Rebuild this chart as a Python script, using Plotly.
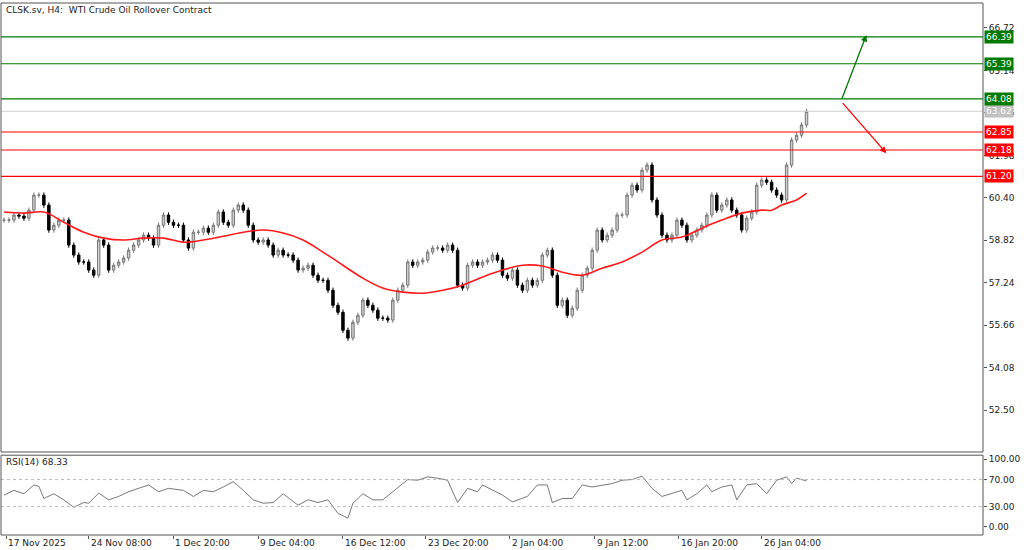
import plotly.graph_objects as go

closes = [59.57,59.57,59.76,59.72,59.64,59.94,60.50,60.50,60.13,59.20,
59.38,59.57,59.57,58.64,58.27,58.01,58.01,57.71,57.52,58.83,
58.64,57.71,57.89,58.01,58.16,58.45,58.64,58.83,59.01,58.90,
58.64,59.38,59.76,59.49,59.38,59.38,58.83,58.53,59.12,59.12,
59.27,59.12,59.38,59.87,59.49,59.38,59.94,60.13,59.94,59.38,
58.83,58.75,58.83,58.64,58.27,58.45,58.27,58.27,58.08,57.71,
57.78,57.89,57.52,57.33,57.33,56.96,56.40,56.14,55.47,55.18,
55.77,56.03,56.59,56.40,56.22,55.92,55.92,55.85,56.59,56.96,
57.15,58.01,57.89,58.01,58.08,58.38,58.53,58.53,58.45,58.64,
58.45,57.15,57.04,57.89,58.01,57.89,58.01,58.08,58.27,58.08,
57.52,57.41,57.71,57.15,56.96,57.33,57.15,57.33,58.27,58.45,
57.52,56.40,56.59,56.03,56.29,56.96,57.52,57.78,58.45,59.20,
58.83,59.01,59.20,59.76,59.76,60.50,60.87,60.69,61.43,61.62,
60.32,59.76,59.01,58.83,59.01,59.57,59.38,58.83,59.01,59.20,
59.38,59.76,60.50,59.94,60.13,60.32,59.94,59.76,59.20,59.64,
59.87,60.87,61.06,60.98,60.69,60.50,60.32,61.62,62.55,62.73,
63.11,63.62]

ma_idx = [0,4,8,12,16,20,24,28,32,36,40,44,48,52,56,60,64,68,72,76,80,84,88,92,96,100,104,108,112,116,120,124,128,132,136,140,144,148,152,154,156,159,161]
ma_val = [59.87,59.83,59.87,59.49,59.12,58.90,58.83,58.90,58.90,58.75,58.83,58.97,59.12,59.20,59.09,58.83,58.38,57.89,57.41,57.04,56.89,56.85,56.96,57.15,57.45,57.71,57.89,57.86,57.63,57.52,57.78,58.01,58.38,58.83,58.94,59.27,59.57,59.83,59.94,59.94,60.13,60.32,60.57]

rsi_idx = [0,2,4,6,7,8,10,12,14,16,17,19,21,23,25,27,29,31,33,36,38,40,42,44,46,48,50,52,54,56,59,61,63,65,67,69,70,72,74,76,78,81,83,85,87,89,90,91,93,95,96,98,100,102,105,107,109,110,112,114,116,118,120,122,124,126,128,130,132,134,136,137,139,141,142,144,146,147,149,151,153,155,157,158,159,161]
rsi_val = [47,54,49,62,60,42,49,40,29,36,35,50,40,45,52,57,62,52,57,54,45,54,52,59,67,54,40,35,36,49,32,40,36,40,20,13,35,49,40,40,52,70,69,74,72,69,52,36,57,52,62,54,47,37,45,62,62,36,42,42,62,59,62,64,69,70,75,57,45,49,54,40,49,62,52,59,62,40,62,64,49,69,74,64,72,68]

levels_green = [66.39, 65.39, 64.08]
levels_red = [62.85, 62.18, 61.20]
last_price = 63.62
price_ticks = [66.72, 65.14, 63.56, 61.98, 60.40, 58.82, 57.24, 55.66, 54.08, 52.50]
rsi_ticks = [100, 70, 30, 0]
date_idx = [0.5, 17, 34, 51, 68, 84.6, 101.5, 118.5, 135.4, 152]
date_labels = ["17 Nov 2025","24 Nov 08:00","1 Dec 20:00","9 Dec 04:00","16 Dec 12:00",
               "23 Dec 20:00","2 Jan 04:00","9 Jan 12:00","16 Jan 20:00","26 Jan 04:00"]

n = len(closes)
idx = list(range(n))
opens = [closes[0]] + closes[:-1]
highs = [max(o, c) + 0.1 for o, c in zip(opens, closes)]
lows = [min(o, c) - 0.1 for o, c in zip(opens, closes)]

fig = go.Figure()
fig.add_trace(go.Candlestick(x=idx, open=opens, high=highs, low=lows, close=closes,
    increasing=dict(fillcolor="#cfcfcf", line=dict(color="#777", width=1)),
    decreasing=dict(fillcolor="#000", line=dict(color="#000", width=1)),
    whiskerwidth=0, xaxis="x", yaxis="y", showlegend=False, hoverinfo="skip"))
fig.add_trace(go.Scatter(x=ma_idx, y=ma_val, mode="lines", line=dict(color="#ff1a1a", width=1.6, shape="spline"),
    xaxis="x", yaxis="y", showlegend=False))
fig.add_trace(go.Scatter(x=rsi_idx, y=rsi_val, mode="lines", line=dict(color="#555", width=0.8),
    xaxis="x2", yaxis="y2", showlegend=False))

XR = [-0.6, 196.4]
shapes = []
ann = []
font = dict(family="DejaVu Sans", size=9, color="#222")
def level(v, col, tcol="white"):
    shapes.append(dict(type="line", xref="x", yref="y", x0=XR[0], x1=XR[1], y0=v, y1=v,
                       line=dict(color=col, width=1.2)))
    ann.append(dict(xref="paper", yref="y", x=1.0, y=v, xanchor="left", yanchor="middle",
                    text=f"{v:.2f}", showarrow=False, bgcolor=col, font=dict(family="DejaVu Sans", size=9, color=tcol),
                    borderpad=1, xshift=1))
shapes.append(dict(type="line", xref="x", yref="y", x0=XR[0], x1=XR[1], y0=last_price, y1=last_price,
                   line=dict(color="#d0d0d0", width=1)))
ann.append(dict(xref="paper", yref="y", x=1.0, y=last_price, xanchor="left", yanchor="middle",
                text=f"{last_price:.2f}", showarrow=False, bgcolor="#c0c0c0",
                font=dict(family="DejaVu Sans", size=9, color="white"), borderpad=1, xshift=1))
for v in levels_green:
    level(v, "#007a00")
for v in levels_red:
    level(v, "#ff0000")
for v in [70, 30]:
    shapes.append(dict(type="line", xref="x2", yref="y2", x0=XR[0], x1=XR[1], y0=v, y1=v,
                       line=dict(color="#bbb", width=1, dash="dot")))

ann.append(dict(x=173, y=66.46, ax=168, ay=64.04, xref="x", yref="y", axref="x", ayref="y",
                showarrow=True, arrowhead=2, arrowsize=1, arrowwidth=1.3, arrowcolor="#007a00", text=""))
ann.append(dict(x=177, y=62.06, ax=168, ay=63.98, xref="x", yref="y", axref="x", ayref="y",
                showarrow=True, arrowhead=2, arrowsize=1, arrowwidth=1.3, arrowcolor="#ff0000", text=""))
ann.append(dict(xref="paper", yref="paper", x=0.003, y=1.0, xanchor="left", yanchor="top", showarrow=False,
                text="CLSK.sv, H4:  WTI Crude Oil Rollover Contract", font=font))
ann.append(dict(xref="paper", yref="paper", x=0.003, y=0.150, xanchor="left", yanchor="top", showarrow=False,
                text="RSI(14) 68.33", font=font))
for d, lab in zip(date_idx, date_labels):
    ann.append(dict(xref="x2", yref="paper", x=d, y=0, xanchor="left", yanchor="top", showarrow=False,
                    text=lab, font=font, yshift=-1))

for y0, y1 in [(0.156, 1.0), (0.0, 0.150)]:
    shapes.append(dict(type="rect", xref="paper", yref="paper", x0=0, x1=1, y0=y0, y1=y1,
                       line=dict(color="#555", width=1)))

axcommon = dict(showgrid=False, zeroline=False, range=XR, showticklabels=False,
                ticks="outside", tickvals=date_idx, ticklen=3, tickcolor="#555")
fig.update_layout(
    width=1024, height=550, paper_bgcolor="white", plot_bgcolor="white",
    margin=dict(l=1, r=41, t=3, b=15), font=font,
    xaxis=dict(domain=[0, 1], anchor="y", rangeslider=dict(visible=False), showgrid=False,
               zeroline=False, range=XR, showticklabels=False),
    yaxis=dict(domain=[0.156, 1.0], range=[50.94, 67.65], side="right", tickvals=price_ticks,
               ticktext=[f"{v:.2f}" for v in price_ticks], ticks="outside", ticklen=3,
               tickcolor="#555", showgrid=False, zeroline=False, tickfont=font),
    xaxis2=dict(domain=[0, 1], anchor="y2", **axcommon),
    yaxis2=dict(domain=[0, 0.150], range=[-12, 106], side="right", tickvals=rsi_ticks,
                ticktext=[f"{v:.2f}" for v in rsi_ticks], ticks="outside", ticklen=3,
                tickcolor="#555", showgrid=False, zeroline=False, tickfont=font),
    shapes=shapes, annotations=ann,
)
fig.write_html("out.html", config={"displayModeBar": False},
               post_script="document.body.style.margin='0';document.body.style.overflow='hidden';")
